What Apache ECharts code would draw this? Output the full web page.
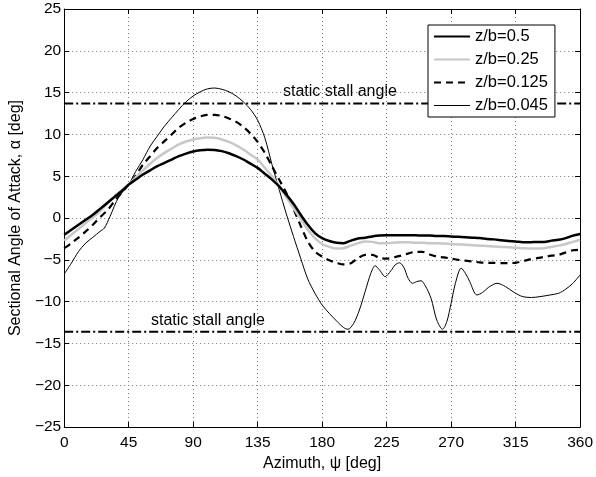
<!DOCTYPE html>
<html>
<head>
<meta charset="utf-8">
<script src="https://cdn.jsdelivr.net/npm/echarts@6/dist/echarts.min.js"></script>
<style>
    html, body { margin: 0; padding: 0; background: #fff; }
    #main { width: 596px; height: 477px; }
</style>
</head>
<body>
<div id="main"></div>
<script>
// 方位角 (5度一个点)
let azimuth = [0, 5, 10, 15, 20, 25, 30, 35, 40, 45, 50, 55, 60, 65, 70, 75, 80, 85, 90, 95,
    100, 105, 110, 115, 120, 125, 130, 135, 140, 145, 150, 155, 160, 165, 170, 175, 180, 185, 190, 195,
    200, 205, 210, 215, 220, 225, 230, 235, 240, 245, 250, 255, 260, 265, 270, 275, 280, 285, 290, 295,
    300, 305, 310, 315, 320, 325, 330, 335, 340, 345, 350, 355, 360];

// z/b=0.5
let zb05 = [-2.0, -1.4, -0.8, -0.2, 0.4, 1.1, 1.8, 2.5, 3.2, 4.0, 4.6, 5.2, 5.7, 6.2, 6.6, 7.0, 7.4, 7.7, 7.95, 8.1,
    8.17, 8.15, 8.0, 7.75, 7.4, 7.0, 6.5, 6.0, 5.3, 4.6, 3.8, 2.8, 1.7, 0.4, -0.8, -1.8, -2.4, -2.75, -2.95, -3.0,
    -2.7, -2.45, -2.35, -2.2, -2.1, -2.05, -2.05, -2.05, -2.05, -2.05, -2.1, -2.1, -2.15, -2.15, -2.2, -2.25, -2.3, -2.35, -2.4, -2.5,
    -2.55, -2.65, -2.75, -2.8, -2.9, -2.9, -2.85, -2.85, -2.7, -2.6, -2.4, -2.1, -1.9];

// z/b=0.25
let zb025 = [-2.7, -2.0, -1.3, -0.6, 0.1, 0.8, 1.7, 2.6, 3.3, 4.0, 4.9, 5.7, 6.5, 7.2, 7.8, 8.3, 8.8, 9.15, 9.4, 9.55,
    9.62, 9.6, 9.4, 9.1, 8.7, 8.2, 7.6, 7.0, 6.0, 5.0, 3.8, 2.5, 1.2, -0.1, -1.4, -2.4, -3.1, -3.45, -3.65, -3.6,
    -3.3, -3.0, -2.8, -2.85, -3.0, -3.0, -2.95, -2.9, -2.9, -2.95, -2.95, -3.0, -3.0, -3.05, -3.1, -3.15, -3.2, -3.25, -3.3, -3.35,
    -3.4, -3.45, -3.5, -3.55, -3.6, -3.65, -3.65, -3.6, -3.45, -3.3, -3.1, -2.85, -2.6];

// z/b=0.125
let zb0125 = [-3.6, -3.0, -2.35, -1.6, -0.8, 0.1, 0.9, 2.0, 3.0, 4.0, 5.1, 6.4, 7.4, 8.4, 9.2, 10.0, 10.8, 11.4, 11.85, 12.15,
    12.35, 12.35, 12.2, 11.9, 11.5, 10.9, 10.1, 9.1, 7.8, 6.2, 4.6, 3.0, 1.1, -0.9, -2.8, -4.0, -4.6, -5.05, -5.35, -5.55,
    -5.4, -4.8, -4.4, -4.4, -4.75, -4.85, -4.7, -4.5, -4.25, -4.05, -4.05, -4.35, -4.6, -4.7, -4.85, -5.0, -5.1, -5.2, -5.3, -5.35,
    -5.36, -5.38, -5.38, -5.35, -5.15, -4.95, -4.8, -4.65, -4.5, -4.4, -4.1, -3.85, -3.8];

// z/b=0.045 (波动较多, 单独取点)
let azimuthThin = [0, 5, 10, 15, 20, 25, 28, 32, 38, 45, 50, 55, 60, 65, 70, 75, 80, 85, 90, 95,
    100, 105, 110, 115, 120, 125, 130, 135, 140, 145, 150, 155, 160, 165, 170, 175, 180, 185, 190, 195,
    198, 202, 206, 210, 214, 217, 220, 224, 228, 231, 234, 237, 240, 243, 246, 249, 252, 256, 260, 264,
    267, 270, 273, 277, 280, 283, 288, 292, 296, 302, 308, 314, 320, 326, 332, 339, 345, 350, 355, 360];
let zb0045 = [-6.7, -5.4, -4.0, -3.0, -2.3, -1.6, -1.2, 0.2, 2.5, 4.0, 5.6, 7.0, 8.6, 9.8, 11.0, 12.0, 13.0, 13.9, 14.6, 15.1,
    15.45, 15.55, 15.4, 15.1, 14.6, 13.9, 13.0, 11.7, 9.6, 6.4, 3.4, 0.5, -2.2, -4.8, -7.3, -9.0, -10.4, -11.4, -12.3, -13.1,
    -13.3, -12.6, -11.0, -8.8, -6.6, -5.7, -6.2, -7.0, -6.3, -5.6, -5.35, -5.9, -7.2, -7.8, -7.6, -7.5, -8.1, -9.6, -12.2, -13.3,
    -12.4, -10.2, -7.8, -6.0, -6.6, -7.6, -9.2, -8.9, -8.3, -7.8, -8.2, -8.9, -9.4, -9.5, -9.4, -9.2, -9.0, -8.5, -7.8, -6.8];

// 静态失速角
let stallAz = [0, 360];
let stallUpper = [13.7, 13.7];
let stallLower = [-13.6, -13.6];

let xTicks = { min: 0, max: 360, interval: 45 };
let yTicks = { min: -25, max: 25, interval: 5 };

function pairs(xs, ys) {
    return xs.map((x, i) => [x, ys[i]]);
}
function minusSign(v) {
    return String(v).replace('-', '\u2212');
}

let myChart = echarts.init(document.getElementById('main'));
let font = 'Liberation Sans, Arial, sans-serif';
let dashDot = [9, 3, 2, 3];

let option = {
    animation: false,
    backgroundColor: '#fff',
    textStyle: { fontFamily: font },
    grid: {     //设置图表位置
        left: 63,
        right: 14,
        top: 9,
        bottom: 48
    },
    legend: {
        data: [
            { name: 'z/b=0.5' },
            { name: 'z/b=0.25' },
            { name: 'z/b=0.125' },
            { name: 'z/b=0.045', lineStyle: { width: 1 } }
        ],
        orient: 'vertical',
        left: 428,
        top: 25,
        padding: [3, 7, 3, 5],
        itemWidth: 36,
        itemHeight: 14,
        itemGap: 6,
        backgroundColor: '#fff',
        borderColor: '#000',
        borderWidth: 1,
        borderRadius: 0,
        itemStyle: { opacity: 0 },      //图例里不要圆点
        textStyle: {
            color: '#000',
            fontSize: 16.5,
            fontFamily: font
        }
    },
    xAxis: [
        {
            type: 'value',
            min: xTicks.min,
            max: xTicks.max,
            interval: xTicks.interval,
            name: 'Azimuth, \u03c8 [deg]',
            nameLocation: 'middle',
            nameGap: 12,
            nameTextStyle: { color: '#000', fontSize: 16, fontFamily: font },
            axisLine: { onZero: false, lineStyle: { color: '#000', width: 1 } },
            axisTick: { inside: true, length: 5, lineStyle: { color: '#000' } },
            axisLabel: { color: '#000', fontSize: 15.5, margin: 8, fontFamily: font, formatter: minusSign },
            splitLine: {    //虚线网格
                show: true,
                lineStyle: { color: '#777', type: [1, 3], width: 1 }
            }
        },
        {
            type: 'value',
            position: 'top',
            min: xTicks.min,
            max: xTicks.max,
            interval: xTicks.interval,
            axisLine: { onZero: false, lineStyle: { color: '#000', width: 1 } },
            axisTick: { inside: true, length: 5, lineStyle: { color: '#000' } },
            axisLabel: { show: false },
            splitLine: { show: false }
        }
    ],
    yAxis: [
        {
            type: 'value',
            min: yTicks.min,
            max: yTicks.max,
            interval: yTicks.interval,
            name: 'Sectional Angle of Attack, \u03b1 [deg]',
            nameLocation: 'middle',
            nameGap: 32,
            nameTextStyle: { color: '#000', fontSize: 16, fontFamily: font },
            axisLine: { onZero: false, lineStyle: { color: '#000', width: 1 } },
            axisTick: { inside: true, length: 5, lineStyle: { color: '#000' } },
            axisLabel: { color: '#000', fontSize: 15.5, margin: 3, fontFamily: font, formatter: minusSign },
            splitLine: {
                show: true,
                lineStyle: { color: '#777', type: [1, 3], width: 1 }
            }
        },
        {
            type: 'value',
            position: 'right',
            min: yTicks.min,
            max: yTicks.max,
            interval: yTicks.interval,
            axisLine: { onZero: false, lineStyle: { color: '#000', width: 1 } },
            axisTick: { inside: true, length: 5, lineStyle: { color: '#000' } },
            axisLabel: { show: false },
            splitLine: { show: false }
        }
    ],
    graphic: [
        {
            type: 'text',
            left: 283,
            top: 84,
            style: { text: 'static stall angle', fill: '#000', fontSize: 16, fontFamily: font }
        },
        {
            type: 'text',
            left: 151,
            top: 313,
            style: { text: 'static stall angle', fill: '#000', fontSize: 16, fontFamily: font }
        }
    ],
    series: [
        {
            name: 'stall-upper',
            type: 'line',
            data: pairs(stallAz, stallUpper),
            symbol: 'none',
            silent: true,
            lineStyle: { color: '#000', width: 2, type: dashDot }
        },
        {
            name: 'stall-lower',
            type: 'line',
            data: pairs(stallAz, stallLower),
            symbol: 'none',
            silent: true,
            lineStyle: { color: '#000', width: 2, type: dashDot }
        },
        {
            name: 'z/b=0.045',
            type: 'line',
            data: pairs(azimuthThin, zb0045),
            symbol: 'none',
            smooth: 0.3,
            z: 3,
            itemStyle: { color: '#000' },
            lineStyle: { color: '#000', width: 1 }
        },
        {
            name: 'z/b=0.125',
            type: 'line',
            data: pairs(azimuth, zb0125),
            symbol: 'none',
            smooth: 0.3,
            z: 4,
            itemStyle: { color: '#000' },
            lineStyle: { color: '#000', width: 2.2, type: [7, 5] }
        },
        {
            name: 'z/b=0.25',
            type: 'line',
            data: pairs(azimuth, zb025),
            symbol: 'none',
            smooth: 0.3,
            z: 5,
            itemStyle: { color: '#c8c8c8' },
            lineStyle: { color: '#c8c8c8', width: 2.5 }
        },
        {
            name: 'z/b=0.5',
            type: 'line',
            data: pairs(azimuth, zb05),
            symbol: 'none',
            smooth: 0.3,
            z: 6,
            itemStyle: { color: '#000' },
            lineStyle: { color: '#000', width: 2.5 }
        }
    ]
};

myChart.setOption(option);
</script>
</body>
</html>
